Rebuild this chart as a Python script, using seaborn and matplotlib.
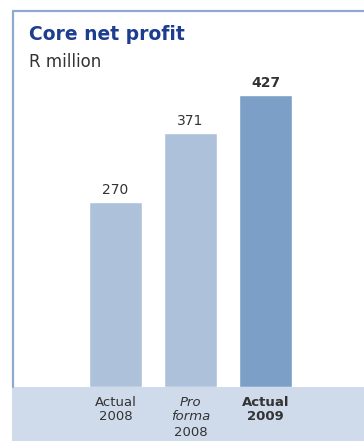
import matplotlib
matplotlib.use("Agg")
import matplotlib.pyplot as plt
import matplotlib.transforms as mtransforms
from matplotlib.patches import Rectangle
from matplotlib.lines import Line2D
import seaborn as sns
import pandas as pd

categories = ["Actual 2008", "Pro forma 2008", "Actual 2009"]
values = [270, 371, 427]
value_labels = ["270", "371", "427"]
bar_colors = ["#adc1db", "#adc1db", "#7b9fc6"]

title = "Core net profit"
subtitle = "R million"

sns.set_theme(style="white")
plt.rcParams["font.family"] = ["DejaVu Sans"]

W, H = 364, 441
fig = plt.figure(figsize=(W / 100, H / 100), dpi=100)
fig.patch.set_facecolor("white")

# band at bottom
band_top = 387
fig.patches.append(Rectangle((12 / W, 0), (W - 12) / W, (H - band_top) / H,
                             transform=fig.transFigure, facecolor="#cfdbea",
                             edgecolor="none", zorder=-5))
# frame lines
fig.lines.append(Line2D([13 / W, 1], [1 - 11 / H, 1 - 11 / H], transform=fig.transFigure,
                        color="#8eaad0", lw=1.6, zorder=-4))
fig.lines.append(Line2D([13 / W, 13 / W], [1 - 11 / H, (H - band_top) / H], transform=fig.transFigure,
                        color="#8eaad0", lw=1.6, zorder=-4))

ax = fig.add_axes([13 / W, (H - band_top) / H, (W - 13) / W, (band_top - 11) / H])
ax.set_facecolor("none")
ax.set_zorder(2)

df = pd.DataFrame({"cat": categories, "val": values})
sns.barplot(data=df, x="cat", y="val", hue="cat", palette=bar_colors, order=categories,
            hue_order=categories, width=0.707, legend=False, ax=ax, saturation=1)

ppu = 0.685
ax.set_ylim(0, (band_top - 11) / ppu)
ax.set_xlim((13 - 115.5) / 75, (364 - 115.5) / 75)
ax.set_xticks([])
ax.set_yticks([])
ax.set_xlabel("")
ax.set_ylabel("")
for s in ax.spines.values():
    s.set_visible(False)

# value labels
for i, (v, lab) in enumerate(zip(values, value_labels)):
    ax.text(i, v + 12 / ppu, lab, ha="center", va="center", fontsize=10,
            color="#333333", fontweight="bold" if i == 2 else "normal")

# category labels in band
trans = mtransforms.blended_transform_factory(ax.transData, fig.transFigure)
line_y = [402, 417, 432]
def put(i, k, txt, **kw):
    ax.text(i, 1 - line_y[k] / H, txt, transform=trans, ha="center", va="center",
            fontsize=9.5, color="#333333", clip_on=False, zorder=10, **kw)

put(0, 0, "Actual")
put(0, 1, "2008")
put(1, 0, "Pro", style="italic")
put(1, 1, "forma", style="italic")
put(1, 2, "2008")
put(2, 0, "Actual", fontweight="bold")
put(2, 1, "2009", fontweight="bold")

fig.text(29 / W, 1 - 35 / H, title, ha="left", va="center", fontsize=13.5,
         fontweight="bold", color="#1d3d8f")
fig.text(29 / W, 1 - 62 / H, subtitle, ha="left", va="center", fontsize=12,
         color="#333333")

fig.savefig("out.png", dpi=100)
